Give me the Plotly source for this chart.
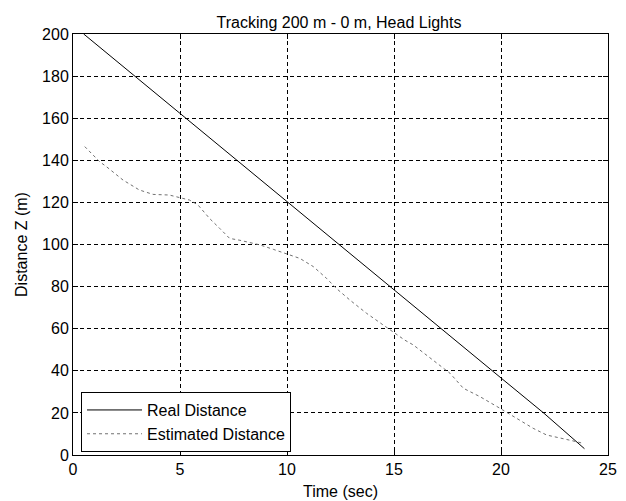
import plotly.graph_objects as go

# Data
real_time = [0.5, 2.0, 4.0, 6.0, 8.0, 10.0, 12.0, 14.0, 16.0, 18.0, 20.0, 22.0, 23.9]
real_dist = [200.0, 187.4, 170.7, 153.9, 137.2, 120.4, 103.6, 86.9, 70.1, 53.4, 36.6, 19.9, 3.0]

est_time = [0.55, 1.25, 1.56, 2.34, 3.1, 3.74, 4.5, 4.98, 5.45, 5.84, 6.38, 6.85, 7.32,
            7.8, 8.74, 9.36, 9.99, 10.6, 11.23, 11.85, 12.3, 12.94, 13.72, 14.5, 14.97,
            15.5, 15.9, 16.84, 17.62, 18.24, 19.02, 19.95, 20.73, 21.5, 22.13, 22.9,
            23.54, 23.85]
est_dist = [146.5, 139.3, 137.0, 130.6, 125.9, 123.8, 123.5, 122.2, 121.1, 118.8, 112.4,
            107.7, 102.9, 102.0, 99.8, 97.7, 95.5, 93.4, 89.5, 83.9, 79.2, 73.6, 67.3,
            61.8, 58.6, 54.6, 52.3, 45.1, 38.8, 31.7, 27.7, 22.2, 17.4, 12.7, 9.5, 7.9,
            6.3, 5.5]

x_ticks = [0, 5, 10, 15, 20, 25]
y_ticks = [0, 20, 40, 60, 80, 100, 120, 140, 160, 180, 200]

FONT = "Liberation Sans, Arial, sans-serif"

fig = go.Figure()
fig.add_trace(go.Scatter(x=real_time, y=real_dist, mode="lines", name="Real Distance",
                         line=dict(color="black", width=1)))
fig.add_trace(go.Scatter(x=est_time, y=est_dist, mode="lines", name="Estimated Distance",
                         line=dict(color="#707070", width=1, dash="3px,3px")))

axis_common = dict(
    showline=True, linecolor="black", linewidth=1, mirror="ticks",
    ticks="inside", ticklen=5, tickcolor="black",
    showgrid=True, gridcolor="black", gridwidth=1, griddash="4px,3px",
    zeroline=False, automargin=False,
    tickfont=dict(family=FONT, size=16, color="black"),
)

fig.update_layout(
    width=618, height=493,
    margin=dict(l=65, r=18, t=26, b=46),
    paper_bgcolor="white", plot_bgcolor="white",
    font=dict(family=FONT, size=16, color="black"),
    title=dict(text="Tracking 200 m - 0 m, Head Lights", x=0.5356, xanchor="center",
               y=0.9716, yanchor="middle", font=dict(size=16)),
    xaxis=dict(range=[0, 25], tickvals=x_ticks,
               title=dict(text="Time (sec)", standoff=8, font=dict(size=16)),
               **axis_common),
    yaxis=dict(range=[0, 200], tickvals=y_ticks,
               title=dict(text="Distance Z (m)", standoff=10, font=dict(size=16)),
               **axis_common),
    showlegend=True,
    legend=dict(x=0.015, y=0.007, xanchor="left", yanchor="bottom",
                bgcolor="white", bordercolor="black", borderwidth=1,
                font=dict(size=16), tracegroupgap=0, itemwidth=55),
)

fig.write_html("out.html")
